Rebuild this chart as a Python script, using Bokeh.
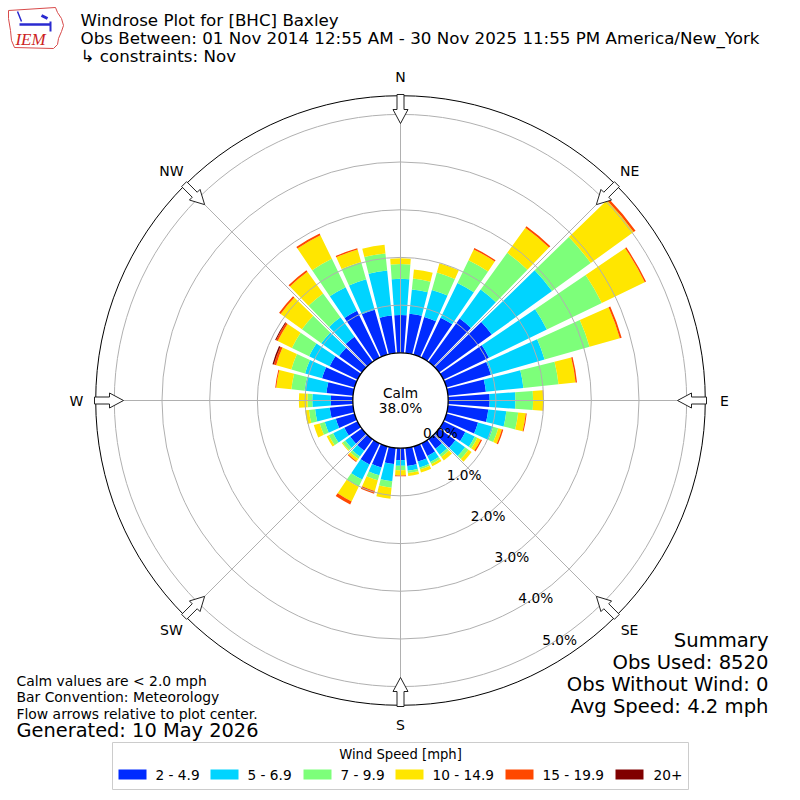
import numpy as np
from bokeh.plotting import figure
from bokeh.models import Range1d, Label
from bokeh.core.properties import value
from bokeh.embed import file_html
from bokeh.resources import INLINE

# ---------------- data ----------------
directions = [0, 10, 20, 30, 40, 50, 60, 70, 80, 90, 100, 110, 120, 130, 140, 150, 160, 170,
              180, 190, 200, 210, 220, 230, 240, 250, 260, 270, 280, 290, 300, 310, 320, 330, 340, 350]
speed_bins = ["2 - 4.9", "5 - 6.9", "7 - 9.9", "10 - 14.9", "15 - 19.9", "20+"]
bin_colors = ["#002bff", "#00d4ff", "#7dff7a", "#ffe600", "#ff4800", "#800000"]

pct_2_5 = [0.79, 0.83, 0.82, 0.93, 1.12, 1.36, 1.06, 0.97, 0.80, 0.87, 0.85, 0.69, 0.51, 0.42, 0.25, 0.29, 0.33, 0.38,
           0.25, 0.34, 0.46, 0.49, 0.30, 0.30, 0.31, 0.41, 0.49, 0.46, 0.56, 0.71, 0.65, 0.59, 0.65, 1.09, 0.98, 0.79]
pct_5_7 = [0.76, 0.51, 0.59, 0.81, 0.75, 1.56, 1.35, 1.17, 0.79, 0.54, 0.38, 0.33, 0.22, 0.25, 0.15, 0.14, 0.13, 0.10,
           0.12, 0.36, 0.17, 0.35, 0.15, 0.13, 0.26, 0.24, 0.31, 0.39, 0.46, 0.37, 0.48, 0.46, 0.50, 0.55, 0.66, 0.95]
pct_7_10 = [0.31, 0.23, 0.38, 0.53, 0.95, 1.00, 1.28, 0.98, 0.74, 0.37, 0.25, 0.11, 0.06, 0.09, 0.06, 0.05, 0.04, 0.05,
            0.09, 0.14, 0.11, 0.17, 0.06, 0.07, 0.10, 0.11, 0.13, 0.10, 0.28, 0.30, 0.40, 0.50, 0.62, 0.66, 0.38, 0.36]
pct_10_15 = [0.12, 0.19, 0.20, 0.25, 0.65, 1.11, 1.00, 0.66, 0.36, 0.21, 0.16, 0.08, 0.08, 0.08, 0.09, 0.05, 0.07, 0.06,
             0.11, 0.23, 0.23, 0.34, 0.06, 0.02, 0.05, 0.13, 0.08, 0.18, 0.32, 0.33, 0.33, 0.55, 0.56, 0.55, 0.27, 0.18]
pct_15_20 = [0.00, 0.00, 0.00, 0.03, 0.04, 0.05, 0.03, 0.04, 0.03, 0.01, 0.02, 0.03, 0.03, 0.00, 0.00, 0.00, 0.00, 0.00,
             0.02, 0.00, 0.06, 0.07, 0.02, 0.00, 0.00, 0.00, 0.00, 0.00, 0.02, 0.05, 0.04, 0.04, 0.04, 0.04, 0.03, 0.00]
pct_20p = [0.00, 0.00, 0.00, 0.00, 0.00, 0.00, 0.00, 0.00, 0.00, 0.00, 0.00, 0.00, 0.00, 0.00, 0.00, 0.00, 0.00, 0.00,
           0.00, 0.00, 0.00, 0.00, 0.00, 0.00, 0.00, 0.00, 0.00, 0.00, 0.00, 0.03, 0.02, 0.00, 0.00, 0.00, 0.00, 0.00]

calm_pct = 38.0
ring_values = [0, 1, 2, 3, 4, 5]
ring_labels = ["0.0%", "1.0%", "2.0%", "3.0%", "4.0%", "5.0%"]
compass_names = ["N", "NE", "E", "SE", "S", "SW", "W", "NW"]
compass_angles = [0, 45, 90, 135, 180, 225, 270, 315]

title_lines = ["Windrose Plot for [BHC] Baxley",
               "Obs Between: 01 Nov 2014 12:55 AM - 30 Nov 2025 11:55 PM America/New_York",
               " \u21b3 constraints: Nov"]
notes_lines = ["Calm values are < 2.0 mph", "Bar Convention: Meteorology",
               "Flow arrows relative to plot center."]
generated_text = "Generated: 10 May 2026"
summary_lines = ["Summary", "Obs Used: 8520", "Obs Without Wind: 0", "Avg Speed: 4.2 mph"]
legend_title = "Wind Speed [mph]"

# ---------------- geometry ----------------
S = 47.7            # pixels per percent
R0 = 1.0            # calm circle radius (in percent units)
RMAX = 5.39         # outer radial limit (percent)
W = 792
FONT = "DejaVu Sans"


def X(px):
    return (px - 400.0) / S


def Y(py):
    return (400.0 - py) / S


p = figure(width=W, height=W, x_range=Range1d(X(0), X(W)), y_range=Range1d(Y(W), Y(0)),
           x_axis_location=None, y_axis_location=None, toolbar_location=None,
           output_backend="svg", min_border=0)
p.grid.visible = False
p.outline_line_color = None
p.background_fill_color = "white"
p.border_fill_color = "white"

# ---------------- bars ----------------
series = [pct_2_5, pct_5_7, pct_7_10, pct_10_15, pct_15_20, pct_20p]
theta = np.deg2rad(90.0 - np.array(directions, dtype=float))
half_w = np.deg2rad(8.3) / 2.0
cum = np.zeros(len(directions))
for vals, col in zip(series, bin_colors):
    v = np.array(vals, dtype=float)
    p.annular_wedge(x=0, y=0, inner_radius=R0 + cum, outer_radius=R0 + cum + v,
                    start_angle=theta - half_w, end_angle=theta + half_w,
                    fill_color=col, line_color=None)
    cum = cum + v

# ---------------- grid ----------------
ring_r = [R0 + v for v in ring_values[1:]]
p.circle(x=[0] * len(ring_r), y=[0] * len(ring_r), radius=ring_r, fill_color=None,
         line_color="#b0b0b0", line_width=1)
ca = np.deg2rad(np.array(compass_angles, dtype=float))
p.segment(x0=R0 * np.sin(ca), y0=R0 * np.cos(ca),
          x1=(R0 + RMAX) * np.sin(ca), y1=(R0 + RMAX) * np.cos(ca),
          line_color="#b0b0b0", line_width=1)
p.circle(x=[0], y=[0], radius=[R0 + RMAX], fill_color=None, line_color="black", line_width=1)
p.circle(x=[0], y=[0], radius=[R0], fill_color="white", line_color="black", line_width=1.3)

# ---------------- arrows ----------------
r_tail, r_base, r_tip = 306 / S, 291 / S, 277 / S
w_shaft, w_head = 3.5 / S, 7.5 / S
local = [(r_tail, -w_shaft), (r_base, -w_shaft), (r_base, -w_head), (r_tip, 0.0),
         (r_base, w_head), (r_base, w_shaft), (r_tail, w_shaft)]
axs, ays = [], []
for a in ca:
    d = np.array([np.sin(a), np.cos(a)])
    q = np.array([np.cos(a), -np.sin(a)])
    pts = [r * d + w * q for r, w in local]
    axs.append([pt[0] for pt in pts])
    ays.append([pt[1] for pt in pts])
p.patches(xs=axs, ys=ays, fill_color="white", line_color="#222222", line_width=1)

# ---------------- compass labels ----------------
r_lab = 324 / S
p.text(x=r_lab * np.sin(ca), y=r_lab * np.cos(ca), text=compass_names,
       text_font=value(FONT), text_font_size=value("14px"), text_color="black",
       text_align="center", text_baseline="middle")

# ---------------- ring labels ----------------
rl = np.array([R0 + v for v in ring_values])
a150 = np.deg2rad(150.0)
p.text(x=rl * np.sin(a150) + 16 / S, y=rl * np.cos(a150) + 8.6 / S, text=ring_labels,
       text_font=value(FONT), text_font_size=value("13.7px"), text_color="black",
       text_align="center", text_baseline="middle")

# ---------------- calm ----------------
p.text(x=[0, 0], y=[Y(392), Y(407.5)], text=["Calm", "%.1f%%" % calm_pct],
       text_font=value(FONT), text_font_size=value("13.7px"), text_color="black",
       text_align="center", text_baseline="middle")

# ---------------- titles ----------------
for i, t in enumerate(title_lines):
    p.add_layout(Label(x=X(80), y=Y(19 + 18 * i), text=t, text_font=FONT,
                       text_font_size="16.7px", text_color="black",
                       text_align="left", text_baseline="middle"))

for i, t in enumerate(notes_lines):
    p.add_layout(Label(x=X(16), y=Y(680 + 16.5 * i), text=t, text_font=FONT,
                       text_font_size="13.9px", text_color="black",
                       text_align="left", text_baseline="middle"))
p.add_layout(Label(x=X(16), y=Y(730), text=generated_text, text_font=FONT,
                   text_font_size="19.4px", text_color="black",
                   text_align="left", text_baseline="middle"))

for i, t in enumerate(summary_lines):
    p.add_layout(Label(x=X(768), y=Y(640 + 22 * i), text=t, text_font=FONT,
                       text_font_size="19.6px", text_color="black",
                       text_align="right", text_baseline="middle"))

# ---------------- legend ----------------
p.quad(left=[X(112)], right=[X(688)], top=[Y(742)], bottom=[Y(789)],
       fill_color="white", line_color="#cccccc", line_width=1)
p.add_layout(Label(x=X(400), y=Y(753.5), text=legend_title, text_font=FONT,
                   text_font_size="13.2px", text_color="black",
                   text_align="center", text_baseline="middle"))
sw_left = [118, 210, 303, 395, 505, 615]
lab_left = [155, 247, 340, 432, 542, 653]
p.quad(left=[X(v) for v in sw_left], right=[X(v + 28) for v in sw_left],
       top=[Y(769)] * 6, bottom=[Y(779)] * 6, fill_color=bin_colors, line_color=None)
p.text(x=[X(v) for v in lab_left], y=[Y(774)] * 6, text=speed_bins,
       text_font=value(FONT), text_font_size=value("13.7px"), text_color="black",
       text_align="left", text_baseline="middle")

# ---------------- logo ----------------
iowa = [(8, 10), (55, 7), (57, 12), (61, 18), (63, 25), (61, 31), (58, 38), (57, 44),
        (53, 48), (14, 47), (11, 40), (10, 30), (8, 18)]
p.patch(x=[X(a) for a, b in iowa], y=[Y(b) for a, b in iowa], fill_color=None,
        line_color="#d84a4a", line_width=1)
p.multi_line(xs=[[X(19), X(50)], [X(17), X(19), X(21)], [X(50), X(50)], [X(41), X(47)]],
             ys=[[Y(24), Y(24)], [Y(11), Y(16), Y(21)], [Y(21), Y(31)], [Y(15), Y(18)]],
             line_color="#2a2ad0", line_width=[2.5, 1.5, 2, 3])
p.add_layout(Label(x=X(30), y=Y(39), text="IEM", text_font="Liberation Serif",
                   text_font_style="italic", text_font_size="17px", text_color="#cc2222",
                   text_align="center", text_baseline="middle"))

open("out.html", "w").write(file_html(p, INLINE))
